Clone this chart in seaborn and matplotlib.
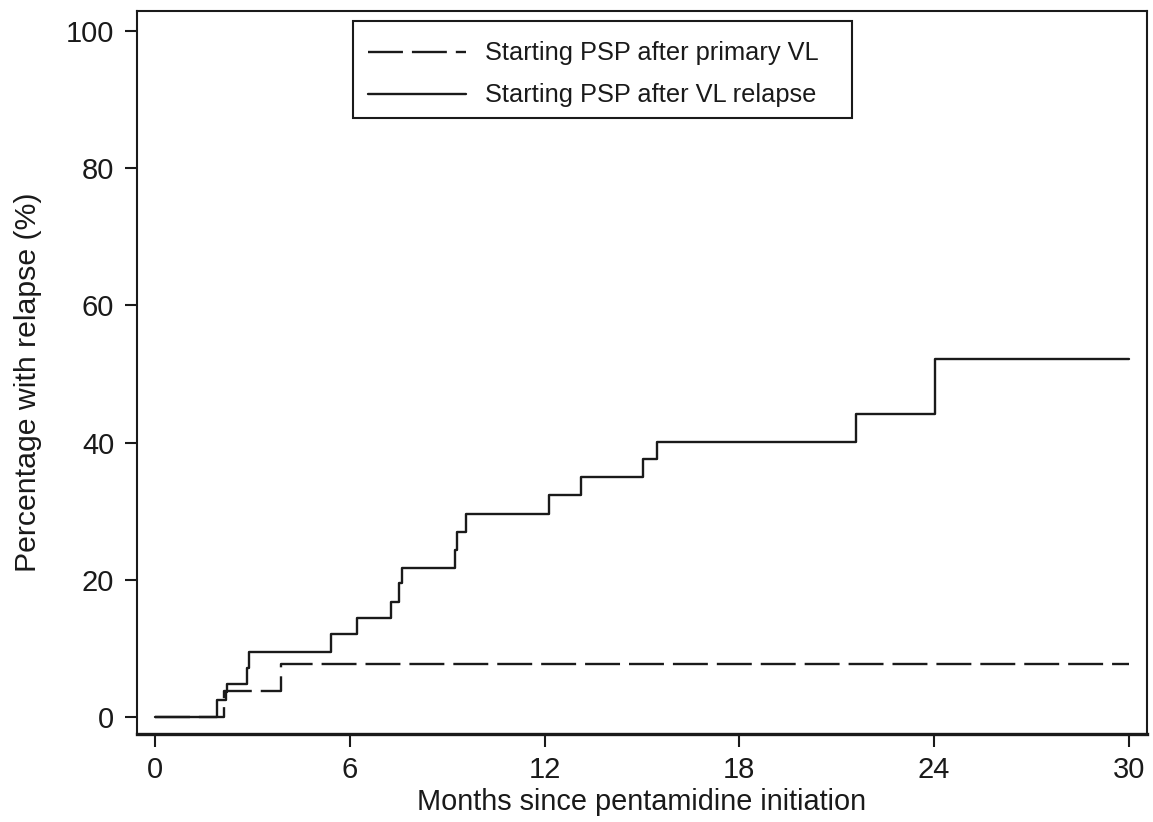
import pandas as pd
import seaborn as sns
import matplotlib.pyplot as plt
from matplotlib.patches import Rectangle

# Step-curve data (months, % with relapse)
primary_months = [0, 2.14, 3.88, 30]
primary_pct = [0, 3.8, 7.7, 7.7]

relapse_months = [0, 1.90, 2.19, 2.22, 2.82, 2.90, 5.42, 6.22, 7.27, 7.53, 7.60,
                  9.25, 9.31, 9.57, 12.14, 13.12, 15.04, 15.47, 21.58, 24.04, 30]
relapse_pct = [0, 2.5, 3.7, 4.8, 7.1, 9.4, 12.1, 14.4, 16.8, 19.5, 21.7,
               24.3, 27.0, 29.6, 32.3, 34.9, 37.6, 40.1, 44.2, 52.1, 52.1]

labels = ["Starting PSP after primary VL", "Starting PSP after VL relapse"]
x_ticks = [0, 6, 12, 18, 24, 30]
y_ticks = [0, 20, 40, 60, 80, 100]

df = pd.concat([
    pd.DataFrame({"months": primary_months, "pct": primary_pct, "group": labels[0]}),
    pd.DataFrame({"months": relapse_months, "pct": relapse_pct, "group": labels[1]}),
])

sns.set_style("ticks")
plt.rcParams["font.family"] = ["Liberation Sans", "DejaVu Sans"]
ink = "#1a1a1a"

fig = plt.figure(figsize=(11.53, 8.22), dpi=100)
ax = fig.add_axes([0.1184, 0.107, 0.8768, 0.8796])

sns.lineplot(data=df, x="months", y="pct", hue="group", style="group",
             palette={labels[0]: ink, labels[1]: ink},
             dashes={labels[0]: (14.8, 3.8), labels[1]: ""},
             estimator=None, sort=False, drawstyle="steps-post",
             linewidth=1.7, legend=False, ax=ax)

ax.set_xlim(-0.57, 30.57)
ax.set_ylim(-2.5, 102.9)
ax.set_xticks(x_ticks)
ax.set_yticks(y_ticks)
ax.tick_params(axis="both", length=9, width=1.5, pad=7, labelsize=21,
               color=ink, labelcolor=ink)

for side in ["left", "right", "top"]:
    ax.spines[side].set_linewidth(1.5)
    ax.spines[side].set_color(ink)
ax.spines["bottom"].set_linewidth(2.4)
ax.spines["bottom"].set_color(ink)

ax.set_xlabel("Months since pentamidine initiation", fontsize=20.8, color=ink)
ax.set_ylabel("Percentage with relapse (%)", fontsize=21.8, color=ink)
ax.xaxis.set_label_coords(0.5, -0.0936)
ax.xaxis.label.set_va("center")
ax.yaxis.set_label_coords(-0.107, 0.487)
ax.yaxis.label.set_va("center")

# legend box drawn separately so the entries can sit a bit lower inside it
ax.add_patch(Rectangle((0.214, 0.852), 0.4936, 0.1346, transform=ax.transAxes,
                       fill=False, edgecolor=ink, linewidth=1.5, zorder=5))
handles = ax.get_lines()[:2]
leg = ax.legend(handles, labels, loc="upper left",
                bbox_to_anchor=(0.214, 0.8442, 0.4936, 0.1348), mode="expand",
                borderaxespad=0, fontsize=18.3, frameon=False,
                handlelength=3.86, handletextpad=0.74, borderpad=0.6,
                labelspacing=0.71)
for t in leg.get_texts():
    t.set_color(ink)

fig.savefig("out.png", dpi=100)
